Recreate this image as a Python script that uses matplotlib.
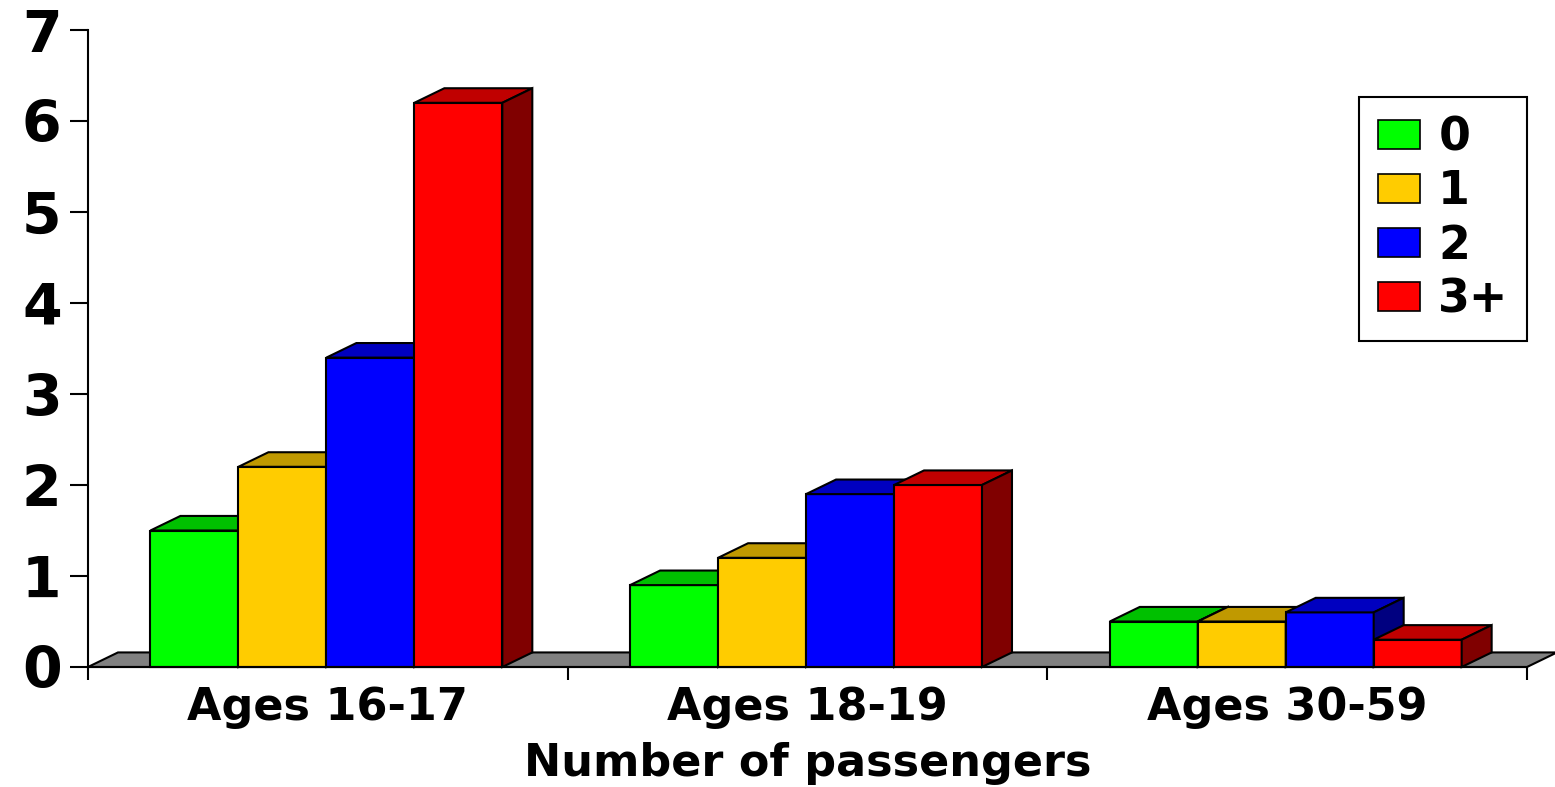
import matplotlib.pyplot as plt
from matplotlib.patches import Polygon, Patch

groups = ["Ages 16-17", "Ages 18-19", "Ages 30-59"]
passengers = ["0", "1", "2", "3+"]
vals_0 = [1.5, 0.9, 0.5]
vals_1 = [2.2, 1.2, 0.5]
vals_2 = [3.4, 1.9, 0.6]
vals_3 = [6.2, 2.0, 0.3]
series = [vals_0, vals_1, vals_2, vals_3]

front = ["#00ff00", "#ffcc00", "#0000ff", "#ff0000"]
top = ["#00c000", "#c09900", "#0000c0", "#c00000"]
side = ["#008000", "#806600", "#000080", "#800000"]

plt.rcParams["font.family"] = ["DejaVu Sans"]
plt.rcParams["font.weight"] = "bold"

fig = plt.figure(figsize=(15.55, 7.87), dpi=100)
ax = fig.add_axes([88 / 1555, 120 / 787, 1439 / 1555, 637 / 787])

w = 0.1834
dx, dy = 0.0625, 0.16
lw = 1.5

# floor
ax.add_patch(Polygon([(0, 0), (3, 0), (3 + dx, dy), (dx, dy)], closed=True,
                     facecolor="#808080", edgecolor="black", lw=lw, clip_on=False, zorder=1))

for g in range(len(groups)):
    for k, vals in enumerate(series):
        h = vals[g]
        x = g + 0.497 - 2 * w + k * w
        ax.add_patch(Polygon([(x, 0), (x + w, 0), (x + w, h), (x, h)], closed=True,
                             facecolor=front[k], edgecolor="black", lw=lw, clip_on=False, zorder=2))
        ax.add_patch(Polygon([(x, h), (x + w, h), (x + w + dx, h + dy), (x + dx, h + dy)], closed=True,
                             facecolor=top[k], edgecolor="black", lw=lw, clip_on=False, zorder=2))
        ax.add_patch(Polygon([(x + w, 0), (x + w + dx, dy), (x + w + dx, h + dy), (x + w, h)], closed=True,
                             facecolor=side[k], edgecolor="black", lw=lw, clip_on=False, zorder=2))

ax.set_xlim(0, 3)
ax.set_ylim(0, 7)
ax.spines["top"].set_visible(False)
ax.spines["right"].set_visible(False)
ax.spines["left"].set_linewidth(lw)
ax.spines["bottom"].set_linewidth(lw)
ax.spines["bottom"].set_zorder(3)

ax.set_yticks(range(8))
ax.tick_params(axis="y", length=13, width=lw, labelsize=41, pad=6)
ax.set_xticks([0, 1, 2, 3])
ax.set_xticklabels([])
ax.set_xticks([0.5, 1.5, 2.5], minor=True)
ax.set_xticklabels(groups, minor=True)
ax.tick_params(axis="x", which="major", length=9, width=lw)
ax.tick_params(axis="x", which="minor", length=0, labelsize=32, pad=14)
ax.set_xlabel("Number of passengers", fontsize=32, fontweight="bold", labelpad=9)

handles = [Patch(facecolor=c, edgecolor="black", lw=1.2) for c in front]
leg = ax.legend(handles, passengers, loc="upper right", bbox_to_anchor=(1.0, 0.895),
                fontsize=33, frameon=True, fancybox=False, framealpha=1,
                edgecolor="black", handlelength=0.92, handleheight=0.6,
                handletextpad=0.4, labelspacing=0.2, borderpad=0.4, borderaxespad=0)
leg.get_frame().set_linewidth(lw)

fig.savefig("out.png", dpi=100)
